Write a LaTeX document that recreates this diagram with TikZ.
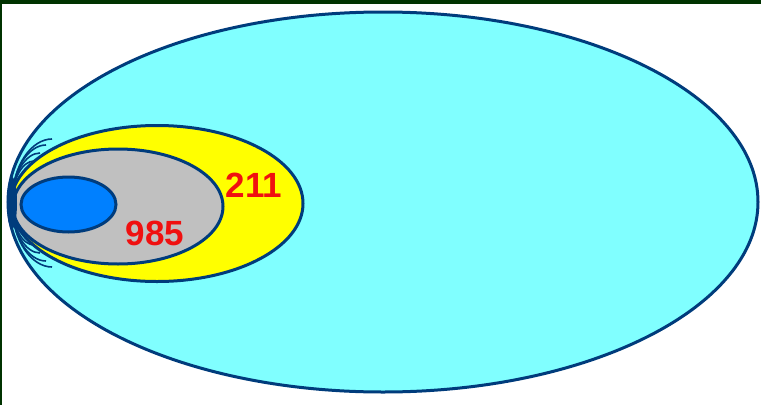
\documentclass[tikz,border=0pt]{standalone}
\usepackage{fontspec}
\setmainfont{Liberation Sans}
\definecolor{frame}{HTML}{003300}
\definecolor{edge}{HTML}{003C7C}
\definecolor{sky}{HTML}{80FFFF}
\definecolor{yel}{HTML}{FFFF00}
\definecolor{gry}{HTML}{C0C0C0}
\definecolor{core}{HTML}{0080FF}
\definecolor{num}{HTML}{F01010}
\begin{document}
\begin{tikzpicture}[x=1pt,y=-1pt,
  shell/.style={draw=edge,line width=3pt},
  fieldline/.style={draw=edge,line width=1.6pt},
  lbl/.style={text=num,font=\fontsize{35}{35}\selectfont\bfseries,inner sep=0pt}]
\useasboundingbox (0,0) rectangle (761,405);
\fill[white] (0,0) rectangle (761,405);
\fill[frame] (0,0) rectangle (761,4);
\fill[frame] (0,0) rectangle (2,405);
\path[shell,fill=sky] (383,202) ellipse [x radius=375,y radius=190];
\path[shell,fill=yel] (157,203.5) ellipse [x radius=146,y radius=78];
\path[shell,fill=gry] (118,206.5) ellipse [x radius=105,y radius=57.5];
\path[shell,fill=core] (68.5,204.5) ellipse [x radius=47.5,y radius=27.5];
% field lines near the pole
\coordinate (p) at (12,203);
\foreach \dx/\dy in {34/58,28/50,22/42,40/64}{
  \draw[fieldline] (p) .. controls (12,{203-\dy*0.6}) and ({12+\dx*0.5},{203-\dy}) .. ({12+\dx},{203-\dy});
  \draw[fieldline] (p) .. controls (12,{203+\dy*0.6}) and ({12+\dx*0.5},{203+\dy}) .. ({12+\dx},{203+\dy});
}
\fill[edge] (p) ellipse [x radius=5,y radius=26];
\node[lbl] (a) at (254,185) {211};
\node[lbl] (b) at (155,233) {985};
\end{tikzpicture}
\end{document}
